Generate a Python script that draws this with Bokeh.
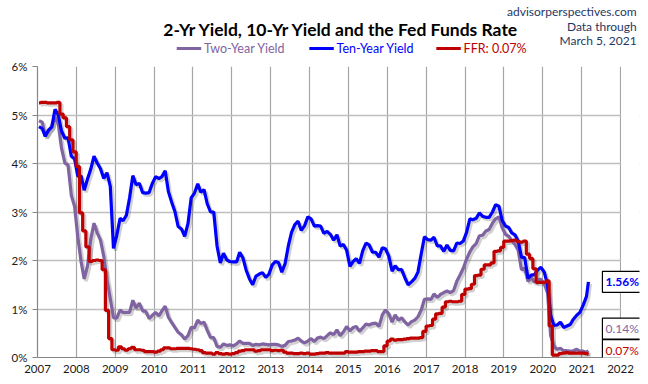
import pandas as pd
from bokeh.plotting import figure
from bokeh.layouts import column
from bokeh.models import (FixedTicker, PrintfTickFormatter, DatetimeTickFormatter,
                          Label, BoxAnnotation, Range1d)
from bokeh.core.properties import value
from bokeh.embed import file_html
from bokeh.resources import INLINE

# ---------------- data (monthly, Jan 2007 .. Mar 5 2021) ----------------
first_month = "2007-01-01"
last_date = "2021-03-05"

ten_year = [
    4.76, 4.72, 4.56, 4.69, 4.75, 5.12, 5.00, 4.67, 4.52, 4.53, 4.15, 4.10,
    3.74, 3.74, 3.45, 3.68, 3.88, 4.15, 4.01, 3.89, 3.69, 3.81, 3.53, 2.25,
    2.52, 2.87, 2.82, 2.93, 3.29, 3.75, 3.56, 3.59, 3.40, 3.39, 3.40, 3.59,
    3.73, 3.69, 3.73, 3.85, 3.42, 3.20, 3.01, 2.70, 2.65, 2.50, 2.76, 3.29,
    3.39, 3.58, 3.41, 3.46, 3.17, 3.00, 3.00, 2.30, 1.95, 2.15, 2.01, 1.98,
    1.97, 1.97, 2.17, 2.05, 1.80, 1.62, 1.50, 1.68, 1.72, 1.75, 1.65, 1.72,
    1.91, 1.98, 1.96, 1.76, 1.93, 2.30, 2.58, 2.74, 2.81, 2.62, 2.72, 2.90,
    2.86, 2.71, 2.72, 2.71, 2.56, 2.60, 2.54, 2.42, 2.53, 2.30, 2.33, 2.21,
    1.88, 1.98, 2.04, 1.94, 2.20, 2.36, 2.32, 2.17, 2.17, 2.07, 2.26, 2.24,
    2.09, 1.78, 1.89, 1.81, 1.81, 1.64, 1.50, 1.56, 1.63, 1.76, 2.14, 2.49,
    2.43, 2.42, 2.48, 2.30, 2.30, 2.19, 2.32, 2.21, 2.20, 2.36, 2.35, 2.40,
    2.58, 2.86, 2.84, 2.87, 2.98, 2.91, 2.89, 2.89, 3.00, 3.15, 3.12, 2.83,
    2.71, 2.68, 2.57, 2.53, 2.40, 2.07, 2.06, 1.63, 1.70, 1.71, 1.81, 1.86,
    1.76, 1.50, 0.87, 0.66, 0.67, 0.73, 0.62, 0.65, 0.68, 0.79, 0.87, 0.93,
    1.08, 1.26, 1.56,
]

two_year = [
    4.88, 4.85, 4.57, 4.67, 4.77, 4.96, 4.82, 4.31, 4.01, 3.97, 3.34, 3.12,
    2.48, 1.97, 1.62, 1.89, 2.43, 2.77, 2.57, 2.42, 2.08, 1.61, 1.21, 0.82,
    0.81, 0.98, 0.93, 0.93, 0.93, 1.18, 1.02, 1.12, 0.96, 0.95, 0.80, 0.87,
    0.93, 0.86, 0.96, 1.06, 0.83, 0.72, 0.62, 0.52, 0.47, 0.38, 0.45, 0.62,
    0.61, 0.77, 0.70, 0.73, 0.56, 0.41, 0.41, 0.23, 0.21, 0.28, 0.25, 0.26,
    0.24, 0.28, 0.34, 0.29, 0.29, 0.29, 0.25, 0.27, 0.26, 0.28, 0.27, 0.26,
    0.27, 0.27, 0.26, 0.23, 0.25, 0.33, 0.34, 0.36, 0.40, 0.34, 0.30, 0.34,
    0.39, 0.33, 0.40, 0.42, 0.39, 0.45, 0.51, 0.47, 0.57, 0.45, 0.53, 0.64,
    0.55, 0.62, 0.64, 0.54, 0.61, 0.69, 0.67, 0.70, 0.71, 0.64, 0.88, 0.98,
    0.90, 0.73, 0.88, 0.77, 0.82, 0.73, 0.67, 0.74, 0.77, 0.84, 0.98, 1.20,
    1.21, 1.20, 1.31, 1.24, 1.30, 1.34, 1.37, 1.34, 1.38, 1.57, 1.70, 1.84,
    2.03, 2.18, 2.28, 2.35, 2.51, 2.52, 2.61, 2.64, 2.77, 2.86, 2.90, 2.68,
    2.54, 2.50, 2.41, 2.33, 2.21, 1.81, 1.84, 1.57, 1.65, 1.55, 1.61, 1.61,
    1.52, 1.33, 0.45, 0.23, 0.17, 0.19, 0.14, 0.14, 0.13, 0.14, 0.17, 0.13,
    0.13, 0.11, 0.14,
]

ffr = [
    5.25, 5.26, 5.26, 5.25, 5.25, 5.25, 5.26, 5.02, 4.94, 4.76, 4.49, 4.24,
    3.94, 2.98, 2.61, 2.28, 1.98, 2.00, 2.01, 2.00, 1.81, 0.97, 0.39, 0.16,
    0.15, 0.22, 0.18, 0.15, 0.18, 0.21, 0.16, 0.16, 0.15, 0.12, 0.12, 0.12,
    0.11, 0.13, 0.16, 0.20, 0.20, 0.18, 0.18, 0.19, 0.19, 0.19, 0.19, 0.18,
    0.17, 0.16, 0.14, 0.10, 0.09, 0.09, 0.07, 0.10, 0.08, 0.07, 0.08, 0.07,
    0.08, 0.10, 0.13, 0.14, 0.16, 0.16, 0.16, 0.13, 0.14, 0.16, 0.16, 0.16,
    0.14, 0.15, 0.14, 0.15, 0.11, 0.09, 0.09, 0.08, 0.08, 0.09, 0.08, 0.09,
    0.07, 0.07, 0.08, 0.09, 0.09, 0.10, 0.09, 0.09, 0.09, 0.09, 0.09, 0.12,
    0.11, 0.11, 0.11, 0.12, 0.12, 0.13, 0.13, 0.14, 0.14, 0.12, 0.12, 0.24,
    0.34, 0.38, 0.36, 0.37, 0.37, 0.38, 0.39, 0.40, 0.40, 0.40, 0.41, 0.54,
    0.65, 0.66, 0.79, 0.90, 0.91, 1.04, 1.15, 1.16, 1.15, 1.15, 1.16, 1.30,
    1.41, 1.42, 1.51, 1.69, 1.70, 1.82, 1.91, 1.91, 1.95, 2.19, 2.20, 2.27,
    2.40, 2.40, 2.41, 2.42, 2.39, 2.38, 2.40, 2.13, 2.04, 1.83, 1.55, 1.55,
    1.55, 1.58, 0.65, 0.05, 0.05, 0.08, 0.09, 0.10, 0.09, 0.09, 0.09, 0.09,
    0.09, 0.08, 0.07,
]

years = list(range(2007, 2023))
pct_ticks = [0, 1, 2, 3, 4, 5, 6]

title_text = "2-Yr Yield, 10-Yr Yield and the Fed Funds Rate"
source_lines = ["advisorperspectives.com", "Data through", "March 5, 2021"]
series_names = ["Two-Year Yield", "Ten-Year Yield", "FFR"]

# ---------------- styling ----------------
PURPLE = "#8064A2"
BLUE = "#0000FF"
RED = "#C00000"
NAVY = "#1F3864"
GRID = "#A6A6A6"
FONT = "Lato"
W = 640
HEAD_H = 56

n = len(ten_year)
dates = list(pd.date_range(first_month, periods=n, freq="MS") + pd.Timedelta(days=14))
dates[-1] = pd.Timestamp(last_date)
shadow_dates = [d + pd.Timedelta(days=18) for d in dates]

x_start = pd.Timestamp(f"{years[0]}-01-01")
x_last_tick = pd.Timestamp(f"{years[-1]}-01-01")
x_end = x_last_tick + pd.Timedelta(days=178)   # room for the end-value boxes

# ---------------- header (title, source, legend) ----------------
h = figure(width=W, height=HEAD_H, x_range=Range1d(0, W), y_range=Range1d(HEAD_H, 0),
           x_axis_location=None, y_axis_location=None,
           output_backend="svg", toolbar_location=None,
           min_border_left=0, min_border_right=0, min_border_top=0, min_border_bottom=0)
h.grid.visible = False
h.outline_line_color = None
h.background_fill_color = "white"
h.border_fill_color = "white"

h.text(x=[323], y=[28.5], text=[title_text], text_align="center",
       text_baseline="alphabetic", text_font=value(FONT), text_font_size="17.5px",
       text_font_style="bold", text_color="#000000")
h.text(x=[637] * 3, y=[11, 25.5, 40], text=source_lines, text_align="right",
       text_baseline="middle", text_font=value(FONT), text_font_size="12px",
       text_color=NAVY)

legend_items = [
    (series_names[0], PURPLE, 148),
    (series_names[1], BLUE, 289),
    (f"{series_names[2]}: {ffr[-1]:.2f}%", RED, 424),
]
for txt, col, x0 in legend_items:
    h.segment(x0=[x0], y0=[48], x1=[x0 + 26], y1=[48], line_color=col, line_width=3)
    h.text(x=[x0 + 29], y=[48], text=[txt], text_align="left", text_baseline="middle",
           text_font=value(FONT), text_font_size="12.5px", text_color=col)

# ---------------- main chart ----------------
p = figure(width=W, height=376 - HEAD_H, x_axis_type="datetime",
           x_range=Range1d(x_start, x_end), y_range=Range1d(0, 6),
           output_backend="svg", toolbar_location=None,
           min_border_left=37, min_border_right=1,
           min_border_top=66 - HEAD_H, min_border_bottom=19)
p.background_fill_color = "white"
p.border_fill_color = "white"
p.outline_line_color = None

p.xaxis.ticker = FixedTicker(ticks=[pd.Timestamp(f"{y}-01-01").value // 10**6 for y in years])
p.xaxis.formatter = DatetimeTickFormatter(years="%Y", months="%Y", days="%Y", hours="%Y")
p.xaxis.bounds = (x_start, x_last_tick)
p.yaxis.ticker = FixedTicker(ticks=pct_ticks)
p.yaxis.formatter = PrintfTickFormatter(format="%d%%")
for ax in (p.xaxis, p.yaxis):
    ax.axis_line_color = "#868686"
    ax.axis_line_width = 1.2
    ax.major_tick_line_color = "#868686"
    ax.minor_tick_line_color = None
    ax.major_label_text_font = FONT
    ax.major_label_text_font_size = "11.5px"
    ax.major_label_text_color = "#1a1a1a"
p.xaxis.major_tick_out = 0
p.xaxis.major_tick_in = 0
p.xaxis.major_label_standoff = 7
p.yaxis.major_tick_out = 5
p.yaxis.major_tick_in = 0
p.yaxis.major_label_standoff = 5

p.xgrid.grid_line_color = GRID
p.xgrid.grid_line_width = 1.2
p.ygrid.grid_line_color = "#BFBFBF"
p.ygrid.grid_line_width = 1.5

# shadows
for vals in (two_year, ten_year):
    p.line(shadow_dates, [v - 0.045 for v in vals], line_color="#000000",
           line_alpha=0.18, line_width=3.5)
p.step(shadow_dates, [v - 0.045 for v in ffr], mode="center", line_color="#000000",
       line_alpha=0.18, line_width=3.5)

# series
p.line(dates, two_year, line_color=PURPLE, line_width=3.2)
p.line(dates, ten_year, line_color=BLUE, line_width=3.2)
p.step(dates, ffr, mode="center", line_color=RED, line_width=3.2)

# blank strip right of the last year gridline (gridlines stop at 2022)
p.add_layout(BoxAnnotation(left=x_last_tick + pd.Timedelta(days=6), fill_color="white",
                           fill_alpha=1.0, line_color=None))

# end-value boxes
end_boxes = [
    (ten_year[-1], BLUE, 0, "bold"),
    (two_year[-1], PURPLE, 22, "normal"),
    (ffr[-1], RED, 4, "normal"),
]
for val, col, yoff, weight in end_boxes:
    p.add_layout(Label(x=pd.Timestamp(last_date), y=val, x_offset=14, y_offset=yoff,
                       text=f"{val:.2f}%", text_align="left", text_baseline="middle",
                       text_font=FONT, text_font_size="12px", text_font_style=weight,
                       text_color=col, background_fill_color="white",
                       border_line_color="black", border_line_width=1.2, padding=3))

layout = column(h, p, spacing=0)
open("out.html", "w").write(file_html(layout, INLINE))
